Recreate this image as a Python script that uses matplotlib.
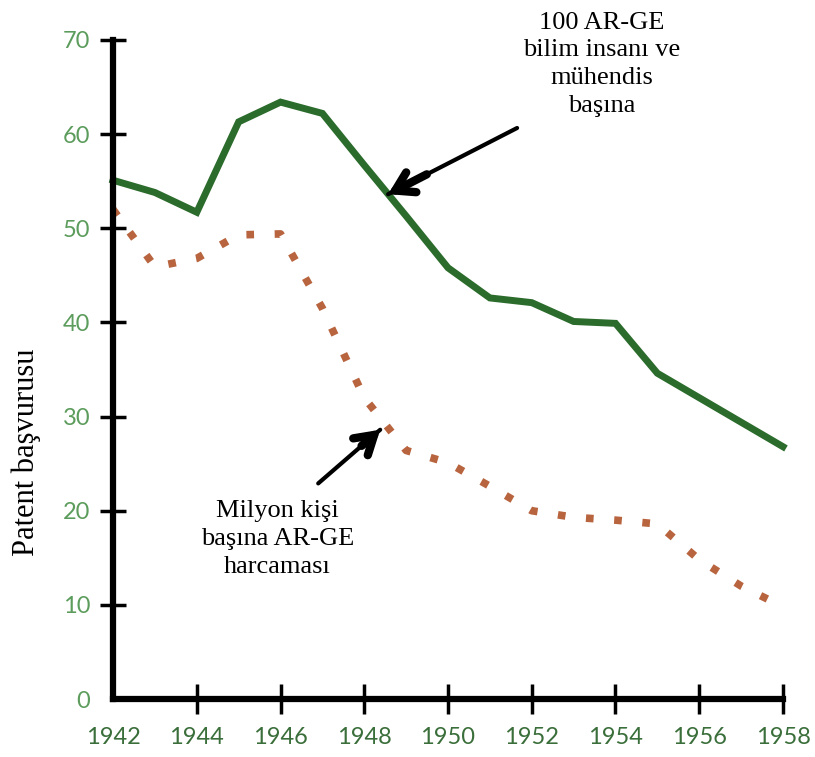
import numpy as np
import matplotlib.pyplot as plt

# data
years = np.arange(1942, 1959)
per_100_scientists = [55.1, 53.8, 51.7, 61.3, 63.4, 62.2, 56.7, 51.3, 45.8,
                      42.6, 42.1, 40.1, 39.9, 34.6, 32.0, 29.4, 26.8]
per_million_spend = [52.0, 45.9, 46.8, 49.3, 49.4, 41.5, 32.0, 26.4, 25.1,
                     22.6, 20.0, 19.3, 19.0, 18.6, 14.8, 12.0, 9.8]
xticks = list(range(1942, 1959, 2))
yticks = list(range(0, 71, 10))

green = '#2b6b2b'
orange = '#b8643e'
serif = 'Liberation Serif'

fig = plt.figure(figsize=(8.15, 7.57), dpi=100)
ax = fig.add_axes([0.1387, 0.0766, 0.822, 0.8706])

ax.plot(years, per_100_scientists, color=green, lw=5, solid_joinstyle='miter',
        clip_on=False, zorder=3)
ax.plot(years, per_million_spend, color=orange, lw=5.5, linestyle=(0, (1, 2.7)),
        clip_on=False, zorder=3)

ax.set_xlim(1942, 1958)
ax.set_ylim(0, 70)
for s in ['top', 'right']:
    ax.spines[s].set_visible(False)
for s in ['left', 'bottom']:
    ax.spines[s].set_linewidth(4.5)
    ax.spines[s].set_color('black')
    ax.spines[s].set_zorder(4)

ax.set_xticks(xticks)
ax.set_yticks(yticks)
ax.tick_params(axis='y', direction='inout', length=19, width=2.5, pad=7,
               labelsize=17, labelcolor='#5c9c5c')
ax.tick_params(axis='x', direction='inout', length=22, width=2.5, pad=9,
               labelsize=17, labelcolor='#3a6e3a')
for lab in ax.get_xticklabels() + ax.get_yticklabels():
    lab.set_fontfamily('Lato')
# no tick marks at the corner
ax.xaxis.get_major_ticks()[0].tick1line.set_visible(False)
ax.yaxis.get_major_ticks()[0].tick1line.set_visible(False)

ax.set_ylabel('Patent başvurusu', fontsize=22, family=serif)
ax.yaxis.set_label_coords(-0.108, 0.375)

# annotations
ax.text(1953.68, 67.4, '100 AR-GE\nbilim insanı ve\nmühendis\nbaşına',
        ha='center', va='center', fontsize=19, family=serif, linespacing=1.35)
ax.text(1945.92, 17.0, 'Milyon kişi\nbaşına AR-GE\nharcaması',
        ha='center', va='center', fontsize=19, family=serif, linespacing=1.35)

arrows = [((1948.57, np.interp(1948.57, years, per_100_scientists)), (1951.65, 60.65)),
          ((1948.38, 28.6), (1946.9, 22.9))]
for tip, tail in arrows:
    ax.annotate('', xy=tip, xytext=tail,
                arrowprops=dict(arrowstyle='-', lw=3, color='black',
                                shrinkA=0, shrinkB=0), annotation_clip=False)
    mid = (tip[0] + 0.3 * (tail[0] - tip[0]), tip[1] + 0.3 * (tail[1] - tip[1]))
    ax.annotate('', xy=tip, xytext=mid,
                arrowprops=dict(arrowstyle='->,head_length=1.3,head_width=0.8',
                                lw=6, color='black', shrinkA=0, shrinkB=0,
                                joinstyle='miter'),
                annotation_clip=False)

plt.savefig('out.png', dpi=100)
